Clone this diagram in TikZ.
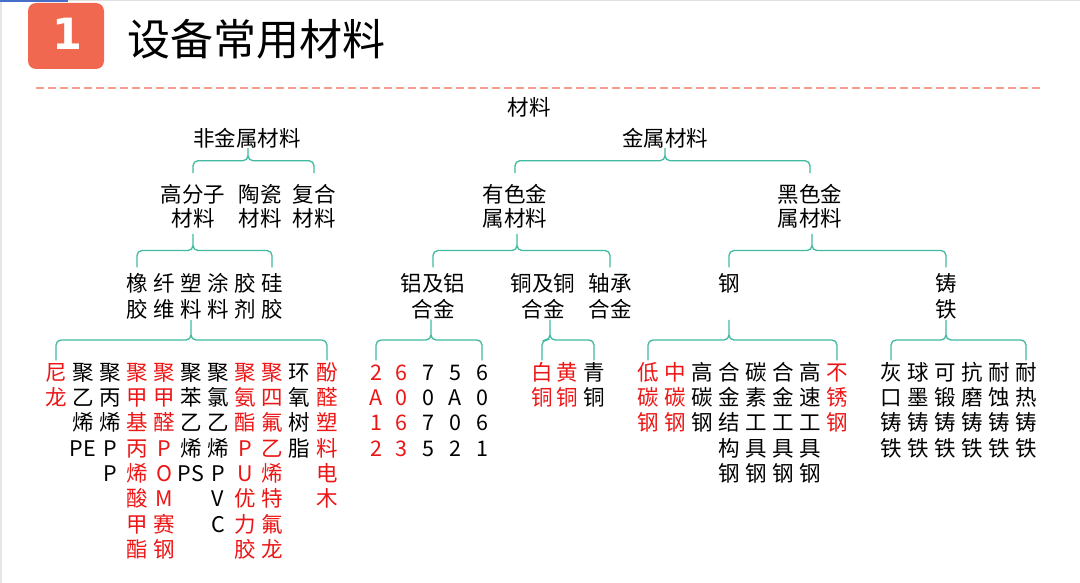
\documentclass[tikz,border=0pt]{standalone}
\usepackage{fontspec}
\setmainfont{Noto Sans CJK SC}
\newfontfamily\numfont{DejaVu Sans}
\usetikzlibrary{calc}
\definecolor{brc}{RGB}{64,186,160}
\definecolor{boxred}{RGB}{240,104,80}
\definecolor{dashc}{RGB}{242,160,140}
\definecolor{txtred}{RGB}{236,22,22}
\definecolor{topblue}{RGB}{70,110,200}
\newcommand\fs{\rule{0pt}{0.88em}}
\newcommand\bracelink[6]{%
  \draw[bracestyle] let \p1=($(#1.south)+(#6,#4)$), \p2=($(#2.north)-(0,#5)$),
      \p3=($(#3.north)-(0,#5)$), \p4=($(\p1)!0.5!(\p2)$) in
    (\x2,\y2) -- (\x2,\y4) -- (\x1,\y4) -- (\x1,\y1)
    (\x1,\y1) -- (\x1,\y4) -- (\x3,\y4) -- (\x3,\y3);}
\begin{document}
\begin{tikzpicture}[x=1pt,y=-1pt,
  lbl/.style={inner sep=0pt, align=center, font=\fontsize{21.5}{24.5}\selectfont},
  lvA/.style={lbl, anchor=north, font=\fontsize{21.5}{24.5}\selectfont},
  lvB/.style={lbl, anchor=north, font=\fontsize{21.5}{26.5}\selectfont},
  leaf/.style={lbl, anchor=north, font=\fontsize{21.5}{25.3}\selectfont},
  hot/.style={text=txtred},
  bracestyle/.style={draw=brc, line width=1.3pt, rounded corners=5pt}]
\useasboundingbox (0,0) rectangle (1080,583);
\fill[white] (0,0) rectangle (1080,583);
% frame decorations
\draw[black!12, line width=1.5pt] (0,0.75) -- (1080,0.75);
\draw[black!10, line width=2pt] (1,0) -- (1,583);
\fill[topblue] (0,0) rectangle (68,2.5);
% header
\node[fill=boxred, rounded corners=8pt, minimum width=76pt, minimum height=66pt, inner sep=0pt] (badge) at (66,36) {};
\node[inner sep=0pt, text=white, font=\numfont\bfseries\fontsize{43}{43}\selectfont] (num) at (67,34) {1};
\node[anchor=west, inner sep=0pt, font=\fontsize{43}{43}\selectfont] (title) at (127,39) {设备常用材料};
\draw[dashc, line width=1.3pt, dash pattern=on 8pt off 4pt] (36,88) -- (1042,88);
% level 0 and 1
\node[lbl] (root) at (529,107) {材料};
\node[lbl] (nonmetal) at (247,138) {非金属材料};
\node[lbl] (metal) at (665,138) {金属材料};
% level A
\node[lvA] (poly) at (193,183.25) {\fs 高分子\\材料};
\node[lvA] (ceramic) at (260,183.25) {\fs 陶瓷\\材料};
\node[lvA] (composite) at (314,183.25) {\fs 复合\\材料};
\node[lvA] (nonferrous) at (515,183.25) {\fs 有色金\\属材料};
\node[lvA] (ferrous) at (810,183.25) {\fs 黑色金\\属材料};
% level B
\node[lvB] (rubber) at (137,272.25) {\fs 橡\\胶};
\node[lvB] (fiber) at (164,272.25) {\fs 纤\\维};
\node[lvB] (plastic) at (191,272.25) {\fs 塑\\料};
\node[lvB] (coating) at (218,272.25) {\fs 涂\\料};
\node[lvB] (adhesive) at (245,272.25) {\fs 胶\\剂};
\node[lvB] (silica) at (272,272.25) {\fs 硅\\胶};
\node[lvB] (al) at (433,272.25) {\fs 铝及铝\\合金};
\node[lvB] (cu) at (543,272.25) {\fs 铜及铜\\合金};
\node[lvB] (bearing) at (610,272.25) {\fs 轴承\\合金};
\node[lvB] (steel) at (729,272.25) {\fs 钢\\\phantom{钢}};
\node[lvB] (cast) at (946,272.25) {\fs 铸\\铁};
% leaves: plastics
\node[leaf,hot] (n1) at (56,361.25) {\fs 尼\\龙};
\node[leaf] (n2) at (83,361.25) {\fs 聚\\乙\\烯\\PE};
\node[leaf] (n3) at (110,361.25) {\fs 聚\\丙\\烯\\P\\P};
\node[leaf,hot] (n4) at (137,361.25) {\fs 聚\\甲\\基\\丙\\烯\\酸\\甲\\酯};
\node[leaf,hot] (n5) at (164,361.25) {\fs 聚\\甲\\醛\\P\\O\\M\\赛\\钢};
\node[leaf] (n6) at (191,361.25) {\fs 聚\\苯\\乙\\烯\\PS};
\node[leaf] (n7) at (218,361.25) {\fs 聚\\氯\\乙\\烯\\P\\V\\C};
\node[leaf,hot] (n8) at (245,361.25) {\fs 聚\\氨\\酯\\P\\U\\优\\力\\胶};
\node[leaf,hot] (n9) at (272,361.25) {\fs 聚\\四\\氟\\乙\\烯\\特\\氟\\龙};
\node[leaf] (n10) at (299,361.25) {\fs 环\\氧\\树\\脂};
\node[leaf,hot] (n11) at (327,361.25) {\fs 酚\\醛\\塑\\料\\电\\木};
% leaves: aluminium
\node[leaf,hot] (a1) at (376,361.25) {\fs 2\\A\\1\\2};
\node[leaf,hot] (a2) at (401,361.25) {\fs 6\\0\\6\\3};
\node[leaf] (a3) at (428,361.25) {\fs 7\\0\\7\\5};
\node[leaf] (a4) at (455,361.25) {\fs 5\\A\\0\\2};
\node[leaf] (a5) at (482,361.25) {\fs 6\\0\\6\\1};
% leaves: copper
\node[leaf,hot] (c1) at (542,361.25) {\fs 白\\铜};
\node[leaf,hot] (c2) at (567,361.25) {\fs 黄\\铜};
\node[leaf] (c3) at (594,361.25) {\fs 青\\铜};
% leaves: steel
\node[leaf,hot] (s1) at (648,361.25) {\fs 低\\碳\\钢};
\node[leaf,hot] (s2) at (675,361.25) {\fs 中\\碳\\钢};
\node[leaf] (s3) at (702,361.25) {\fs 高\\碳\\钢};
\node[leaf] (s4) at (729,361.25) {\fs 合\\金\\结\\构\\钢};
\node[leaf] (s5) at (756,361.25) {\fs 碳\\素\\工\\具\\钢};
\node[leaf] (s6) at (783,361.25) {\fs 合\\金\\工\\具\\钢};
\node[leaf] (s7) at (810,361.25) {\fs 高\\速\\工\\具\\钢};
\node[leaf,hot] (s8) at (837,361.25) {\fs 不\\锈\\钢};
% leaves: cast iron
\node[leaf] (t1) at (891,361.25) {\fs 灰\\口\\铸\\铁};
\node[leaf] (t2) at (918,361.25) {\fs 球\\墨\\铸\\铁};
\node[leaf] (t3) at (945,361.25) {\fs 可\\锻\\铸\\铁};
\node[leaf] (t4) at (972,361.25) {\fs 抗\\磨\\铸\\铁};
\node[leaf] (t5) at (999,361.25) {\fs 耐\\蚀\\铸\\铁};
\node[leaf] (t6) at (1026,361.25) {\fs 耐\\热\\铸\\铁};
% braces
\bracelink{nonmetal}{poly}{composite}{0}{10}{1}
\bracelink{metal}{nonferrous}{ferrous}{0}{10}{0}
\bracelink{poly}{rubber}{silica}{5}{5}{0}
\bracelink{nonferrous}{al}{bearing}{5}{5}{2}
\bracelink{ferrous}{steel}{cast}{5}{5}{2}
\bracelink{plastic}{n1}{n11}{0}{1}{0}
\bracelink{al}{a1}{a5}{0}{1}{-2}
\bracelink{cu}{c1}{c3}{0}{1}{7}
\bracelink{steel}{s1}{s8}{0}{1}{0}
\bracelink{cast}{t1}{t6}{0}{1}{0}
\end{tikzpicture}
\end{document}
